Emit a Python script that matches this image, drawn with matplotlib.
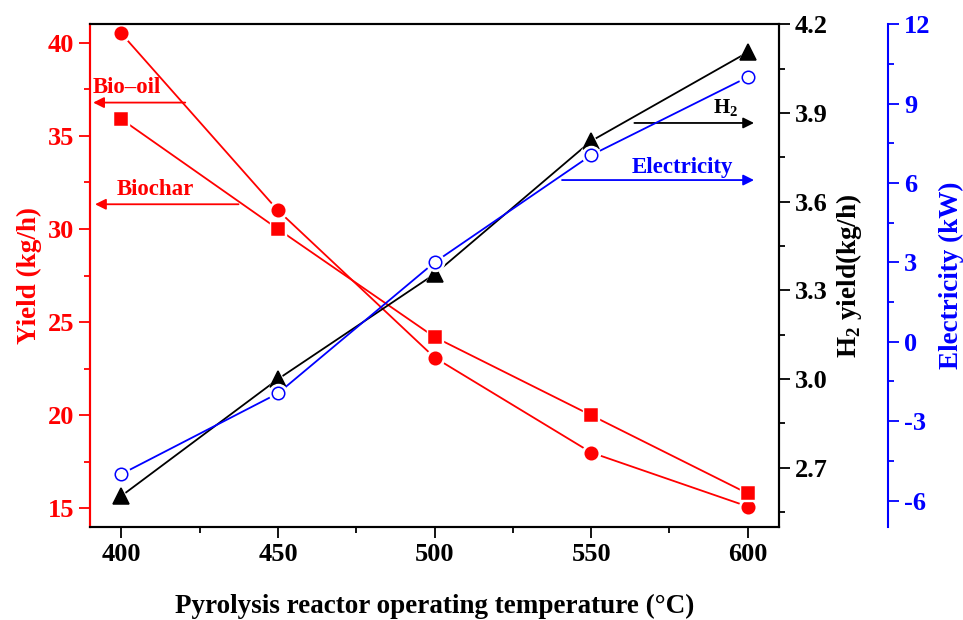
import matplotlib
matplotlib.use('Agg')
import matplotlib.pyplot as plt
from matplotlib.ticker import MultipleLocator

plt.rcParams['font.family'] = 'Liberation Serif'
plt.rcParams['font.weight'] = 'bold'
plt.rcParams['axes.unicode_minus'] = False
plt.rcParams['mathtext.fontset'] = 'custom'
plt.rcParams['mathtext.rm'] = 'Liberation Serif:bold'
plt.rcParams['mathtext.bf'] = 'Liberation Serif:bold'

temps = [400, 450, 500, 550, 600]
bio_oil = [40.5, 31.0, 23.1, 18.0, 15.1]
biochar = [35.9, 30.0, 24.2, 20.0, 15.8]
h2_yield = [2.605, 3.0, 3.355, 3.805, 4.105]
electricity = [-5.0, -1.95, 3.0, 7.05, 10.0]

RED = '#ff0000'
BLUE = '#0000ff'

fig = plt.figure(figsize=(9.63, 6.2), dpi=100)
ax = fig.add_axes([0.0935, 0.15, 0.7155, 0.811])
ax2 = ax.twinx()
ax3 = ax.twinx()
ax3.spines['right'].set_position(('axes', 1.158))


def series(a, x, y, color, marker, ms, mfc, z):
    # line, white halo so the line stops short of the marker, then marker
    a.plot(x, y, color=color, lw=1.3, zorder=z)
    a.plot(x, y, ls='none', marker=marker, ms=ms + 4, mfc='white', mec='white', zorder=z + 0.1)
    a.plot(x, y, ls='none', marker=marker, ms=ms, mfc=mfc, mec=color, mew=1.1, zorder=z + 0.2)


series(ax, temps, bio_oil, RED, 'o', 9, RED, 2)
series(ax, temps, biochar, RED, 's', 8, RED, 3)
series(ax2, temps, h2_yield, 'black', '^', 11, 'black', 2)
series(ax3, temps, electricity, BLUE, 'o', 9, 'white', 2)

ax.set_xlim(390, 610)
ax.set_ylim(14, 41)
ax2.set_ylim(2.5, 4.2)
ax3.set_ylim(-7, 12)

ax.xaxis.set_major_locator(MultipleLocator(50))
ax.xaxis.set_minor_locator(MultipleLocator(25))
ax.yaxis.set_major_locator(MultipleLocator(5))
ax.yaxis.set_minor_locator(MultipleLocator(2.5))
ax2.yaxis.set_minor_locator(MultipleLocator(0.15))
ax3.yaxis.set_major_locator(MultipleLocator(3))
ax3.yaxis.set_minor_locator(MultipleLocator(1.5))
ax2.set_yticks([2.7, 3.0, 3.3, 3.6, 3.9, 4.2])
ax2.set_yticklabels(['2.7', '3.0', '3.3', '3.6', '3.9', '4.2'])

for a in (ax, ax2, ax3):
    a.tick_params(which='major', direction='out', length=8, width=1.3, labelsize=19)
    a.tick_params(which='minor', direction='out', length=4, width=1.3)
    for s in a.spines.values():
        s.set_linewidth(1.5)

ax.spines['left'].set_color(RED)
ax.tick_params(axis='y', which='both', colors=RED)
ax2.spines['left'].set_color(RED)
ax3.spines['left'].set_color(RED)
ax3.spines['right'].set_color(BLUE)
ax3.tick_params(axis='y', which='both', colors=BLUE)
ax3.spines['top'].set_visible(False)
ax3.spines['bottom'].set_visible(False)
ax3.spines['left'].set_visible(False)

ax.set_xlabel('Pyrolysis reactor operating temperature (\u00b0C)', fontsize=19.5,
              fontweight='bold', labelpad=20)
ax.set_ylabel('Yield (kg/h)', fontsize=19.5, fontweight='bold', color=RED, labelpad=4)
ax2.set_ylabel(r'H$_\mathbf{2}$ yield(kg/h)', fontsize=19.5, fontweight='bold', labelpad=4)
ax3.set_ylabel('Electricity (kW)', fontsize=19.5, fontweight='bold', color=BLUE, labelpad=6)


def arrow(a, x0, x1, y, color):
    a.annotate('', xy=(x1, y), xytext=(x0, y), xycoords='data',
               arrowprops=dict(arrowstyle='-|>', color=color, lw=1.3,
                               mutation_scale=16, shrinkA=0, shrinkB=0))


arrow(ax, 420.4, 391, 36.79, RED)
ax.text(391, 37.32, 'Bio\u2013oil', color=RED, fontsize=16.5, fontweight='bold')
arrow(ax, 437.4, 391.6, 31.33, RED)
ax.text(398.5, 31.81, 'Biochar', color=RED, fontsize=16.5, fontweight='bold')
arrow(ax2, 563.8, 602, 3.866, 'black')
ax2.text(589, 3.9, r'H$_\mathbf{2}$', color='black', fontsize=15)
arrow(ax3, 540.7, 602, 6.11, BLUE)
ax3.text(563, 6.38, 'Electricity', color=BLUE, fontsize=16.5, fontweight='bold')

fig.savefig('out.png', dpi=100)
